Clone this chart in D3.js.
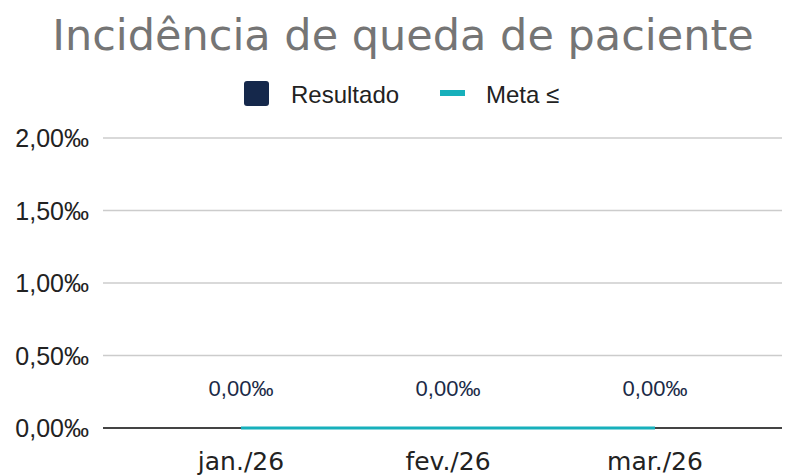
<!DOCTYPE html>
<html lang="pt">
<head>
<meta charset="UTF-8">
<title>Incidência de queda de paciente</title>
<script src="https://d3js.org/d3.v7.min.js"></script>
<style>
  body { margin: 0; background: #fff; }
  svg text { font-family: "Liberation Sans", Arial, sans-serif; }
  .title { font-family: "DejaVu Sans", Verdana, sans-serif; font-size: 43px; fill: #757575; }
  .xlab { font-family: "DejaVu Sans", Verdana, sans-serif; font-size: 25px; fill: #222; }
  .ylab { font-size: 25px; fill: #222; }
  .legend-text { font-size: 24px; fill: #222; }
  .value { font-size: 22px; fill: #1b2a47; }
</style>
</head>
<body>
<div id="chart"></div>
<script>
// data
const months = ["jan./26", "fev./26", "mar./26"];
const resultado = [0, 0, 0];
const meta = [0, 0, 0];
const yTicks = [0, 0.5, 1, 1.5, 2];

const width = 790, height = 475;
const fmt = v => d3.format(".2f")(v).replace(".", ",") + "‰";

const svg = d3.select("#chart").append("svg")
    .attr("width", width)
    .attr("height", height);

// scales
const x = d3.scalePoint().domain(months).range([241, 655]);
const y = d3.scaleLinear().domain([0, 2]).range([428, 138]);

// title
svg.append("text")
    .attr("class", "title")
    .attr("x", 403)
    .attr("y", 50)
    .attr("text-anchor", "middle")
    .text("Incidência de queda de paciente");

// legend
svg.append("rect")
    .attr("x", 244).attr("y", 81)
    .attr("width", 25).attr("height", 25)
    .attr("rx", 3)
    .attr("fill", "#15284b");
svg.append("text").attr("class", "legend-text")
    .attr("x", 291).attr("y", 103).text("Resultado");
svg.append("rect")
    .attr("x", 440).attr("y", 90)
    .attr("width", 25).attr("height", 6)
    .attr("fill", "#17b0bb");
svg.append("text").attr("class", "legend-text")
    .attr("x", 486).attr("y", 103).text("Meta ≤");

// gridlines + y labels
const yAxis = svg.append("g");
yAxis.selectAll("line")
    .data(yTicks)
    .join("line")
    .attr("x1", 103).attr("x2", 782)
    .attr("y1", d => y(d)).attr("y2", d => y(d))
    .attr("stroke", d => d === 0 ? "#444" : "#cccccc")
    .attr("stroke-width", d => d === 0 ? 2 : 1.5);
yAxis.selectAll("text")
    .data(yTicks)
    .join("text")
    .attr("class", "ylab")
    .attr("x", 89)
    .attr("y", d => y(d))
    .attr("dy", "0.36em")
    .attr("text-anchor", "end")
    .text(fmt);

// meta line
svg.append("path")
    .datum(meta)
    .attr("fill", "none")
    .attr("stroke", "#17b0bb")
    .attr("stroke-width", 3)
    .attr("d", d3.line().x((d, i) => x(months[i])).y(d => y(d)));

// value labels
svg.selectAll(".value")
    .data(resultado)
    .join("text")
    .attr("class", "value")
    .attr("x", (d, i) => x(months[i]))
    .attr("y", d => y(d) - 32)
    .attr("text-anchor", "middle")
    .text(fmt);

// x labels
svg.selectAll(".xlab")
    .data(months)
    .join("text")
    .attr("class", "xlab")
    .attr("x", d => x(d))
    .attr("y", 470)
    .attr("text-anchor", "middle")
    .text(d => d);
</script>
</body>
</html>
